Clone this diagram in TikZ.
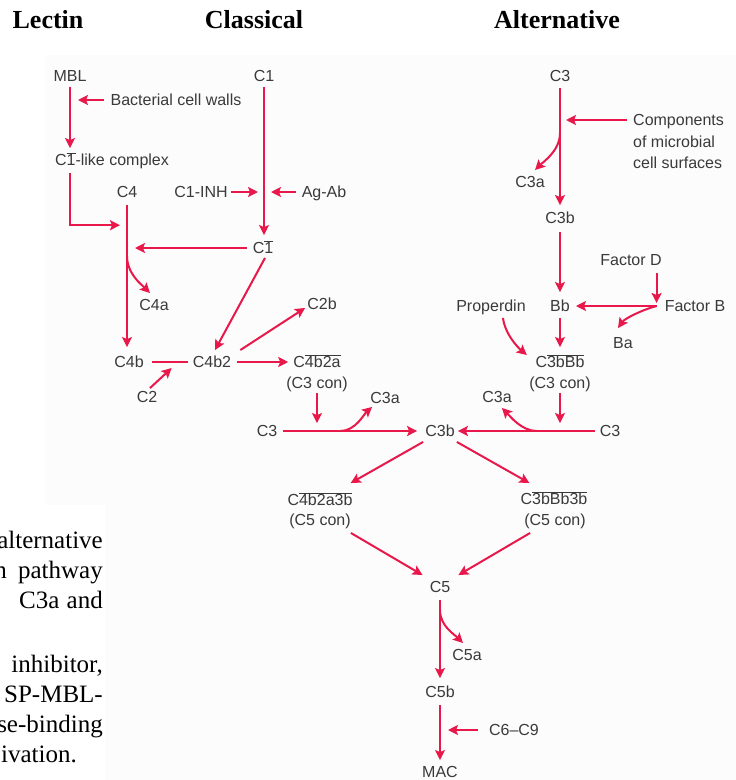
\documentclass[tikz,border=0pt]{standalone}
\usepackage{fontspec}
\setmainfont{Liberation Serif}
\newfontfamily\labfont{Liberation Sans}
\usetikzlibrary{arrows.meta,calc}
\definecolor{pred}{HTML}{E8184B}
\definecolor{ptxt}{HTML}{3A3A3A}
\definecolor{pbg}{HTML}{FCFCFC}
\newcommand\ovl[1]{$\overline{\mbox{#1}}$}
\tikzset{
  lab/.style={font=\labfont\fontsize{16}{19}\selectfont, text=ptxt, inner sep=0pt, text height=11.5pt, text depth=0pt},
  arr/.style={draw=pred, line width=2pt, -{Stealth[length=10pt,width=10pt,inset=2pt]}},
  ln/.style={draw=pred, line width=2pt},
  ttl/.style={font=\bfseries\fontsize{26}{30}\selectfont, anchor=base, inner sep=0pt},
  body/.style={font=\fontsize{25}{30}\selectfont, anchor=base east, inner sep=0pt}
}
\begin{document}
\begin{tikzpicture}[x=1pt,y=-1pt]
\useasboundingbox (0,0) rectangle (736,780);
\fill[pbg] (46,55) -- (736,55) -- (736,780) -- (105,780) -- (105,505) -- (46,505) -- cycle;
% titles
\node[ttl] (tLec) at (48,28) {Lectin};
\node[ttl] (tCla) at (254,28) {Classical};
\node[ttl] (tAlt) at (557,28) {Alternative};
% cut-off body text
\begin{scope}
\clip (0,500) rectangle (106,780);
\node[body] (b1) at (103,548) {alternative};
\node[body] (b2a) at (103,578) {pathway};
\node[body] (b2b) at (7,578) {n};
\node[body, anchor=base west] (b3a) at (19,608) {C3a};
\node[body] (b3b) at (103,608) {and};
\node[body] (b4) at (103,672) {inhibitor,};
\node[body] (b5) at (103,702) {SP-MBL-};
\node[body] (b6) at (103,732) {se-binding};
\node[body] (b7) at (77,762) {ivation.};
\end{scope}
% labels
\node[lab] (MBL) at (70,76) {MBL};
\node[lab] (bcw) at (176,100) {Bacterial cell walls};
\node[lab] (c1lc) at (112,160) {C\ovl{1}-like complex};
\node[lab] (C4) at (127,192) {C4};
\node[lab] (c1inh) at (201,192) {C1-INH};
\node[lab] (agab) at (324,192) {Ag-Ab};
\node[lab] (C1) at (264,76) {C1};
\node[lab] (C1bar) at (263,248) {C\ovl{1}};
\node[lab] (C4a) at (154,305) {C4a};
\node[lab] (C4b) at (129,362) {C4b};
\node[lab] (C2) at (147,397) {C2};
\node[lab] (C4b2) at (212,362) {C4b2};
\node[lab] (C2b) at (322,304) {C2b};
\node[lab] (C4b2a) at (317,362) {C\ovl{4b2a}};
\node[lab] (con1) at (317,383) {(C3 con)};
\node[lab] (C3L) at (267,431) {C3};
\node[lab] (C3aL) at (385,398) {C3a};
\node[lab] (C3b) at (440,431) {C3b};
\node[lab] (C3R) at (610,431) {C3};
\node[lab] (C3aR) at (497,397) {C3a};
\node[lab] (C3bBb) at (560,362) {C\ovl{3bBb}};
\node[lab] (con2) at (560,383) {(C3 con)};
\node[lab] (Bb) at (560,306) {Bb};
\node[lab] (prop) at (491,306) {Properdin};
\node[lab] (facD) at (631,260) {Factor D};
\node[lab] (facB) at (695,306) {Factor B};
\node[lab] (Ba) at (623,343) {Ba};
\node[lab] (C3T) at (560,76) {C3};
\node[lab, anchor=west] (comp1) at (633,120) {Components};
\node[lab, anchor=west] (comp2) at (633,142) {of microbial};
\node[lab, anchor=west] (comp3) at (633,163) {cell surfaces};
\node[lab] (C3aT) at (530,182) {C3a};
\node[lab] (C3bT) at (560,218) {C3b};
\node[lab] (C4b2a3b) at (320,500) {C\ovl{4b2a3b}};
\node[lab] (con3) at (320,520) {(C5 con)};
\node[lab] (C3bBb3b) at (554,499) {C\ovl{3bBb3b}};
\node[lab] (con4) at (555,520) {(C5 con)};
\node[lab] (C5) at (440,587) {C5};
\node[lab] (C5a) at (467,655) {C5a};
\node[lab] (C5b) at (440,692) {C5b};
\node[lab] (MAC) at (440,772) {MAC};
\node[lab] (C6C9) at (514,730) {C6–C9};
% lectin
\draw[arr, shorten <=5pt, shorten >=6pt] (MBL.south) -- (MBL.south |- c1lc.north);
\draw[arr, shorten <=6pt, shorten >=8pt] (bcw.west) -- (bcw.west -| MBL.south);
\coordinate (j1) at ($(C4.south)+(0,27.25)$);
\draw[arr, shorten <=7pt, shorten >=7pt] (c1lc.south -| MBL.south) |- (j1);
\draw[arr, shorten <=7pt, shorten >=9pt] (C4.south) -- (C4.south |- C4b.north);
\draw[arr, shorten <=6pt, shorten >=8pt] (C1bar.west) -- (C1bar.west -| C4.south);
\draw[arr] ($(C4.south)+(0,58)$) .. controls ($(C4.south)+(0,76)$) and ($(C4a.north)+(-12,-14)$) .. ($(C4a.north)+(-4,-6)$);
% classical
\draw[arr, shorten <=5pt, shorten >=7pt] (C1.south) -- (C1.south |- C1bar.north);
\draw[arr, shorten <=3pt, shorten >=6pt] (c1inh.east) -- (c1inh.east -| C1.south);
\draw[arr, shorten <=6pt, shorten >=7pt] (agab.west) -- (agab.west -| C1.south);
\draw[arr] ($(C1bar.south)+(2,4)$) -- ($(C4b2.north)+(3,-6)$);
\draw[ln, shorten <=8pt, shorten >=5pt] (C4b.east) -- (C4b2.west);
\draw[arr] ($(C2.north)+(3,-3)$) -- ($(C4b2.west)+(-21,6)$);
\draw[arr] ($(C4b2.north east)+(9,-6)$) -- ($(C2b.south west)+(-2,-2)$);
\draw[arr, shorten <=6pt, shorten >=5pt] (C4b2.east) -- (C4b2a.west);
\draw[arr, shorten <=4pt, shorten >=2pt] (con1.south) -- (con1.south |- C3L.north);
\draw[arr, shorten <=6pt, shorten >=8pt] (C3L.east) -- (C3b.west);
\draw[arr] ($(C3L.east)+(63,0)$) .. controls ($(C3L.east)+(78,0)$) and ($(C3aL.south west)+(-6,10)$) .. ($(C3aL.south west)+(2,3)$);
% alternative
\draw[arr, shorten <=6pt, shorten >=7pt] (C3T.south) -- (C3T.south |- C3bT.north);
\draw[arr, shorten <=6pt, shorten >=6pt] (comp1.west) -- (comp1.west -| C3T.south);
\draw[arr] ($(C3T.south)+(0,51)$) .. controls ($(C3T.south)+(0,69)$) and ($(C3aT.north)+(13,-14)$) .. ($(C3aT.north)+(5,-6)$);
\draw[arr, shorten <=8pt, shorten >=8pt] (C3bT.south) -- (C3bT.south |- Bb.north);
\coordinate (jB) at ($(facB.west)+(-8,0)$);
\draw[arr, shorten <=7pt, shorten >=3pt] (facD.south -| jB) -- (jB);
\draw[arr, shorten >=6pt] (jB) -- (Bb.east);
\draw[arr] (jB) .. controls ($(jB)+(-12,3)$) and ($(Ba.north)+(2,-19)$) .. ($(Ba.north)+(-5,-9)$);
\draw[arr, shorten <=6pt, shorten >=9pt] (Bb.south) -- (Bb.south |- C3bBb.north);
\draw[arr] ($(prop.south)+(12,6)$) .. controls ($(prop.south)+(14,22)$) and ($(C3bBb.west)+(-18,-15)$) .. ($(C3bBb.west)+(-8.5,-7)$);
\draw[arr, shorten <=4pt, shorten >=2pt] (con2.south) -- (con2.south |- C3R.north);
\draw[arr, shorten <=5pt, shorten >=3pt] (C3R.west) -- (C3b.east);
\draw[arr] ($(C3R.west)+(-63,0)$) .. controls ($(C3R.west)+(-78,0)$) and ($(C3aR.south east)+(-2,13)$) .. ($(C3aR.south east)+(-10,5)$);
% terminal
\draw[arr] ($(C3b.south west)+(-2,5)$) -- ($(C4b2a3b.north east)+(-2,-11)$);
\draw[arr] ($(C3b.south east)+(2,5)$) -- ($(C3bBb3b.north west)+(9,-10)$);
\draw[arr] ($(con3.south east)+(0,7)$) -- ($(C5.north west)+(-7,-6)$);
\draw[arr] ($(con4.south west)+(6,7)$) -- ($(C5.north east)+(8,-6)$);
\draw[arr, shorten <=7pt, shorten >=8pt] (C5.south) -- (C5.south |- C5b.north);
\draw[arr] ($(C5.south)+(0,17)$) .. controls ($(C5.south)+(0,33)$) and ($(C5a.north)+(-13,-15)$) .. ($(C5a.north)+(-4,-6)$);
\draw[arr, shorten <=7pt, shorten >=6pt] (C5b.south) -- (C5b.south |- MAC.north);
\draw[arr, shorten <=11pt, shorten >=8pt] (C6C9.west) -- (C6C9.west -| C5b.south);
\end{tikzpicture}
\end{document}
